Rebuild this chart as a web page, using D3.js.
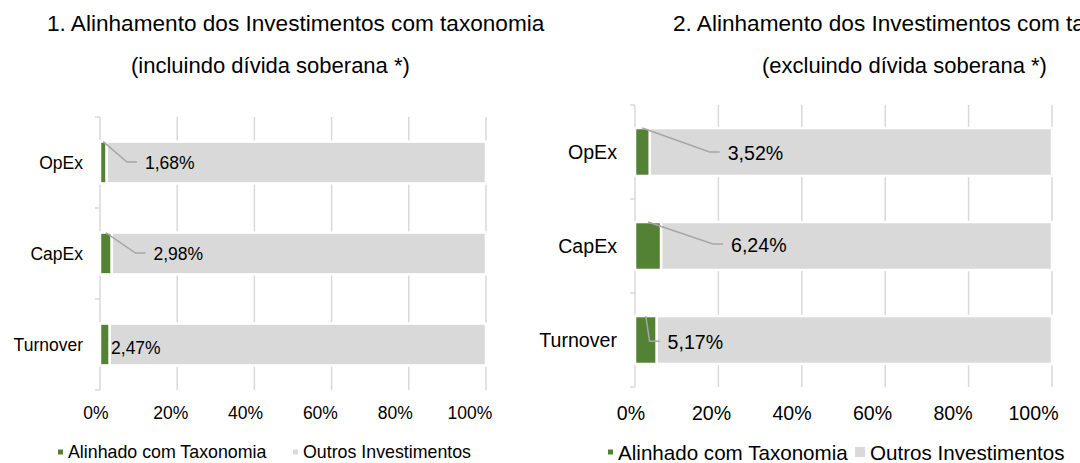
<!DOCTYPE html>
<html lang="pt">
<head>
    <meta charset="UTF-8">
    <title>Alinhamento com taxonomia</title>
    <style>
        body { margin: 0; background: #fff; }
        svg { display: block; font-family: "Liberation Sans", Arial, sans-serif; }
    </style>
</head>
<body>
    <script src="https://d3js.org/d3.v7.min.js"></script>
    <script>
        // Data
        let categories = ["OpEx", "CapEx", "Turnover"];
        let alignedIncl = [1.68, 2.98, 2.47];
        let alignedExcl = [3.52, 6.24, 5.17];
        let tickValues = [0, 20, 40, 60, 80, 100];
        let seriesNames = ["Alinhado com Taxonomia", "Outros Investimentos"];
        let titlesIncl = ["1. Alinhamento dos Investimentos com taxonomia", "(incluindo dívida soberana *)"];
        let titlesExcl = ["2. Alinhamento dos Investimentos com taxonomia", "(excluindo dívida soberana *)"];

        let green = "#548235", grey = "#d9d9d9", leader = "#a6a6a6";

        let svg = d3.select('body')
            .append('svg')
            .attr('width', 1080)
            .attr('height', 463);

        // Two panels, each one stacked bar chart
        let panels = [
            {
                values: alignedIncl, titles: titlesIncl,
                x0: 100, x1: 486, y0: 117, y1: 390, pad: 0.54, fs: 17.5,
                catRight: 83, tickShift: [-4, -16], tickY: 413,
                titleX: [47, 131], titleY: [23, 65], titleFs: [22.6, 22],
                labels: [[38.5, 0.5, true], [42, 0.5, true], [1.5, 3.5, false]],
                legendY: 452, legendX: [58, 293], legendSq: [5, 5], legendFs: 17.8
            },
            {
                values: alignedExcl, titles: titlesExcl,
                x0: 635, x1: 1052, y0: 105, y1: 387, pad: 0.49, fs: 19.6,
                catRight: 617, tickShift: [-4, -18.5], tickY: 413,
                titleX: [673, 762], titleY: [23, 65], titleFs: [22.6, 22],
                labels: [[78, 1, true], [70, -1, true], [11, 2.3, true]],
                legendY: 452, legendX: [608, 855], legendSq: [5, 10], legendFs: 20.6
            }
        ];

        panels.forEach(function(p) {
            let g = svg.append('g');

            let x = d3.scaleLinear().domain([0, 100]).range([p.x0, p.x1]);
            // tick labels sit on a slightly narrower scale in the reference
            let xLabel = d3.scaleLinear().domain([0, 100])
                .range([p.x0 + p.tickShift[0], p.x1 + p.tickShift[1]]);
            let y = d3.scaleBand().domain(categories).range([p.y0, p.y1]).paddingInner(p.pad).paddingOuter(p.pad / 2);
            let yBand = d3.scaleBand().domain(categories).range([p.y0, p.y1]);

            // titles
            p.titles.forEach(function(t, i) {
                g.append('text')
                    .attr('x', p.titleX[i])
                    .attr('y', p.titleY[i])
                    .attr('dominant-baseline', 'central')
                    .attr('font-size', p.titleFs[i])
                    .attr('fill', '#000')
                    .text(t);
            });

            // gridlines
            g.selectAll('.grid')
                .data(tickValues.slice(1))
                .enter()
                .append('line')
                .attr('x1', function(d) { return x(d); })
                .attr('x2', function(d) { return x(d); })
                .attr('y1', p.y0)
                .attr('y2', p.y1)
                .attr('stroke', grey)
                .attr('stroke-width', 1.5);

            // category axis with ticks at band edges
            g.append('line')
                .attr('x1', p.x0).attr('x2', p.x0)
                .attr('y1', p.y0).attr('y2', p.y1)
                .attr('stroke', grey).attr('stroke-width', 1.5);
            let edges = categories.map(function(c) { return yBand(c); }).concat([p.y1]);
            g.selectAll('.ytick')
                .data(edges)
                .enter()
                .append('line')
                .attr('x1', p.x0 - 5).attr('x2', p.x0)
                .attr('y1', function(d) { return d; })
                .attr('y2', function(d) { return d; })
                .attr('stroke', grey).attr('stroke-width', 1.5);

            g.selectAll('.cat')
                .data(categories)
                .enter()
                .append('text')
                .attr('x', p.catRight)
                .attr('y', function(d) { return yBand(d) + yBand.bandwidth() / 2; })
                .attr('text-anchor', 'end')
                .attr('dominant-baseline', 'central')
                .attr('font-size', p.fs)
                .attr('fill', '#000')
                .text(function(d) { return d; });

            // x tick labels
            g.selectAll('.xt')
                .data(tickValues)
                .enter()
                .append('text')
                .attr('x', function(d) { return xLabel(d); })
                .attr('y', p.tickY)
                .attr('text-anchor', 'middle')
                .attr('dominant-baseline', 'central')
                .attr('font-size', p.fs)
                .attr('fill', '#000')
                .text(function(d) { return d + '%'; });

            // bars: other (grey) and aligned (green)
            g.selectAll('.other')
                .data(categories)
                .enter()
                .append('rect')
                .attr('x', function(d, i) { return x(p.values[i]); })
                .attr('y', function(d) { return y(d); })
                .attr('width', function(d, i) { return x(100) - x(p.values[i]); })
                .attr('height', y.bandwidth())
                .attr('fill', grey)
                .attr('stroke', '#fff')
                .attr('stroke-width', 2.5);

            g.selectAll('.aligned')
                .data(categories)
                .enter()
                .append('rect')
                .attr('x', x(0))
                .attr('y', function(d) { return y(d); })
                .attr('width', function(d, i) { return x(p.values[i]) - x(0); })
                .attr('height', y.bandwidth())
                .attr('fill', green)
                .attr('stroke', '#fff')
                .attr('stroke-width', 2.5);

            // data labels with leader lines
            categories.forEach(function(c, i) {
                let v = p.values[i];
                let lx = x(v) + p.labels[i][0];
                let ly = yBand(c) + yBand.bandwidth() / 2 + p.labels[i][1];
                if (p.labels[i][2]) {
                    g.append('polyline')
                        .attr('points', [[x(v / 2), y(c)], [lx - 18, ly - 1], [lx - 8, ly - 1]].join(' '))
                        .attr('fill', 'none')
                        .attr('stroke', leader)
                        .attr('stroke-width', 1.5);
                }
                g.append('text')
                    .attr('x', lx)
                    .attr('y', ly)
                    .attr('dominant-baseline', 'central')
                    .attr('font-size', p.fs)
                    .attr('fill', '#000')
                    .text(d3.format('.2f')(v).replace('.', ',') + '%');
            });

            // legend
            let colors = [green, grey];
            seriesNames.forEach(function(s, i) {
                let sq = p.legendSq[i];
                g.append('rect')
                    .attr('x', p.legendX[i])
                    .attr('y', p.legendY - sq / 2)
                    .attr('width', sq)
                    .attr('height', sq)
                    .attr('fill', colors[i]);
                g.append('text')
                    .attr('x', p.legendX[i] + sq + 5)
                    .attr('y', p.legendY)
                    .attr('dominant-baseline', 'central')
                    .attr('font-size', p.legendFs)
                    .attr('fill', '#000')
                    .text(s);
            });
        });
    </script>
</body>
</html>
